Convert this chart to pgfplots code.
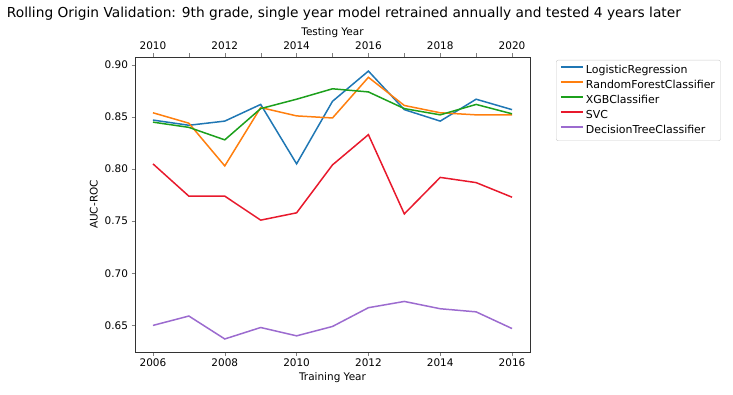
\documentclass[border=0pt]{standalone}
\usepackage{pgfplots}
\pgfplotsset{compat=1.18}
\usepackage{fontspec}
\setmainfont{DejaVu Sans}
\definecolor{cLR}{HTML}{1F77B4}
\definecolor{cRF}{HTML}{FF7F0E}
\definecolor{cXGB}{HTML}{1CA01C}
\definecolor{cSVC}{HTML}{E8192C}
\definecolor{cDT}{HTML}{9C6BCF}
\begin{document}
\begin{tikzpicture}
\path[use as bounding box] (-135bp,-43bp) rectangle (598bp,352bp);
\begin{axis}[
  at={(0,0)}, anchor=south west,
  scale only axis, width=395bp, height=295bp,
  xmin=2005.5, xmax=2016.5, ymin=0.6245, ymax=0.9075,
  xtick={2006,2008,...,2016},
  ytick={0.65,0.70,...,0.90},
  yticklabel style={/pgf/number format/.cd,fixed,fixed zerofill,precision=2},
  xticklabel style={/pgf/number format/.cd,set thousands separator={}},
  /pgf/number format/assume math mode=true,
  tick label style={font=\fontsize{10.5}{12}\selectfont},
  label style={font=\fontsize{10.5}{12}\selectfont},
  xlabel={Training Year}, ylabel={AUC-ROC},
  xlabel style={yshift=1bp},
  tick align=outside, tick pos=left,
  major tick length=3.5bp,
  axis line style={black!80},
  every axis plot/.append style={line width=1.5bp},
  legend style={at={(1.066,0.99)}, anchor=north west, draw=black!20, rounded corners=2bp,
    font=\fontsize{11}{12.5}\selectfont, row sep=1.2bp, inner sep=3.5bp},
  legend cell align=left,
  legend image code/.code={\path[#1, draw, line width=2.2bp] (0bp,3.6bp) -- (22bp,3.6bp);},
  title={Rolling Origin Validation: 9th grade, single year model retrained annually and tested 4 years later},
  title style={font=\fontsize{13.8}{15}\selectfont, at={(-0.333,1.0)}, anchor=south west, yshift=27bp},
]
\addplot[color=cLR] coordinates {(2006,0.847)(2007,0.842)(2008,0.846)(2009,0.862)(2010,0.805)(2011,0.865)(2012,0.894)(2013,0.857)(2014,0.846)(2015,0.867)(2016,0.857)};
\addlegendentry{LogisticRegression}
\addplot[color=cRF] coordinates {(2006,0.854)(2007,0.844)(2008,0.803)(2009,0.859)(2010,0.851)(2011,0.849)(2012,0.888)(2013,0.861)(2014,0.854)(2015,0.852)(2016,0.852)};
\addlegendentry{RandomForestClassifier}
\addplot[color=cXGB] coordinates {(2006,0.845)(2007,0.840)(2008,0.828)(2009,0.858)(2010,0.867)(2011,0.877)(2012,0.874)(2013,0.858)(2014,0.852)(2015,0.862)(2016,0.853)};
\addlegendentry{XGBClassifier}
\addplot[color=cSVC] coordinates {(2006,0.805)(2007,0.774)(2008,0.774)(2009,0.751)(2010,0.758)(2011,0.804)(2012,0.833)(2013,0.757)(2014,0.792)(2015,0.787)(2016,0.773)};
\addlegendentry{SVC}
\addplot[color=cDT] coordinates {(2006,0.650)(2007,0.659)(2008,0.637)(2009,0.648)(2010,0.640)(2011,0.649)(2012,0.667)(2013,0.673)(2014,0.666)(2015,0.663)(2016,0.647)};
\addlegendentry{DecisionTreeClassifier}
\end{axis}
\begin{axis}[
  at={(0,0)}, anchor=south west,
  scale only axis, width=395bp, height=295bp,
  xmin=2009.5, xmax=2020.5, ymin=0, ymax=1,
  axis x line*=top, axis y line=none,
  xtick={2010,2011,...,2020},
  xticklabels={2010,,2012,,2014,,2016,,2018,,2020},
  xticklabel style={/pgf/number format/.cd,set thousands separator={}},
  tick label style={font=\fontsize{10.5}{12}\selectfont},
  label style={font=\fontsize{10.5}{12}\selectfont},
  xlabel={Testing Year},
  xlabel style={yshift=-2bp},
  tick align=outside, major tick length=3.5bp,
  axis line style={black!80},
]
\addplot[draw=none] coordinates {(2010,0.5)};
\end{axis}
\end{tikzpicture}
\end{document}
